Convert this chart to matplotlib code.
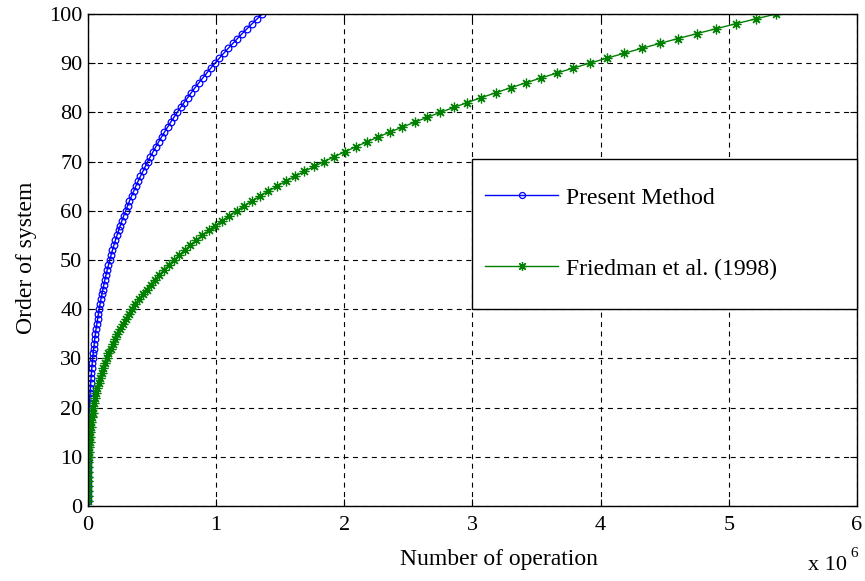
"""Operation count versus system order: present method vs Friedman et al. (1998)."""

import matplotlib
matplotlib.use("Agg")
import matplotlib.pyplot as plt
from matplotlib.patches import Rectangle
import numpy as np

plt.rcParams["font.family"] = ["Liberation Serif", "DejaVu Serif"]

# order of system (n = 1 .. 100)
order = np.arange(1, 101)

# number of operations, in units of 10^6
present_ops = [
    0.000, 0.000, 0.000, 0.000, 0.000, 0.000, 0.000, 0.001, 0.001, 0.001,
    0.002, 0.002, 0.003, 0.004, 0.005, 0.006, 0.007, 0.008, 0.009, 0.011,
    0.013, 0.014, 0.017, 0.019, 0.021, 0.024, 0.027, 0.030, 0.033, 0.037,
    0.041, 0.045, 0.049, 0.053, 0.058, 0.063, 0.069, 0.075, 0.081, 0.087,
    0.094, 0.101, 0.108, 0.116, 0.124, 0.132, 0.141, 0.150, 0.160, 0.170,
    0.180, 0.191, 0.202, 0.214, 0.226, 0.239, 0.252, 0.265, 0.279, 0.294,
    0.309, 0.324, 0.340, 0.357, 0.373, 0.391, 0.409, 0.428, 0.447, 0.466,
    0.487, 0.508, 0.529, 0.551, 0.574, 0.597, 0.621, 0.645, 0.671, 0.696,
    0.723, 0.750, 0.778, 0.806, 0.835, 0.865, 0.896, 0.927, 0.959, 0.991,
    1.025, 1.059, 1.094, 1.130, 1.166, 1.203, 1.241, 1.280, 1.320, 1.360,
]
friedman_ops = [
    0.000, 0.000, 0.000, 0.000, 0.001, 0.001, 0.002, 0.003, 0.004, 0.005,
    0.007, 0.009, 0.012, 0.015, 0.018, 0.022, 0.026, 0.031, 0.037, 0.043,
    0.050, 0.057, 0.065, 0.074, 0.084, 0.094, 0.106, 0.118, 0.131, 0.145,
    0.160, 0.176, 0.193, 0.211, 0.230, 0.251, 0.272, 0.295, 0.319, 0.344,
    0.370, 0.398, 0.427, 0.457, 0.489, 0.523, 0.558, 0.594, 0.632, 0.671,
    0.712, 0.755, 0.799, 0.846, 0.893, 0.943, 0.994, 1.048, 1.103, 1.160,
    1.219, 1.280, 1.343, 1.408, 1.475, 1.544, 1.615, 1.688, 1.764, 1.842,
    1.922, 2.004, 2.089, 2.176, 2.265, 2.357, 2.452, 2.548, 2.648, 2.749,
    2.854, 2.961, 3.070, 3.183, 3.298, 3.416, 3.536, 3.660, 3.786, 3.915,
    4.047, 4.182, 4.319, 4.460, 4.604, 4.751, 4.901, 5.054, 5.211, 5.370,
]

labels = ["Present Method", "Friedman et al. (1998)"]

fig = plt.figure(figsize=(8.65, 5.81), dpi=100)
ax = fig.add_axes([0.1017, 0.129, 0.889, 0.847])

ax.plot(present_ops, order, color="#0000ff", lw=1.0, marker="o", ms=4.8,
        mfc="none", mew=0.9, label=labels[0])
ax.plot(friedman_ops, order, color="#008000", lw=1.0, marker=(8, 2, 0), ms=7,
        mew=0.9, label=labels[1])

ax.set_xlim(0, 6)
ax.set_ylim(0, 100)
ax.set_xticks(range(0, 7))
ax.set_yticks(range(0, 101, 10))
ax.grid(True, color="black", linestyle=(0, (4.5, 4)), linewidth=0.8)
ax.tick_params(direction="in", top=True, right=True, length=5, width=0.8,
               labelsize=16, pad=4)
ax.tick_params(axis="x", pad=7)
for s in ax.spines.values():
    s.set_linewidth(1.0)

ax.set_xlabel("Number of operation", fontsize=17)
ax.xaxis.set_label_coords(0.534, -0.087)
ax.set_ylabel("Order of system", fontsize=17)
ax.yaxis.set_label_coords(-0.066, 0.504)

fig.text(0.934, 0.019, "x 10", fontsize=16, ha="left", va="baseline")
fig.text(0.983, 0.041, "6", fontsize=11, ha="left", va="baseline")

# legend box (MATLAB style: square frame stuck to the right axis edge)
ax.add_patch(Rectangle((0.4993, 0.4004), 0.5007, 0.3049, transform=ax.transAxes,
                       facecolor="white", edgecolor="black", lw=1.0, zorder=4,
                       clip_on=False))
leg = ax.legend(loc="center left", bbox_to_anchor=(0.4993, 0.554), borderaxespad=0,
                frameon=False, fontsize=17, handlelength=3.1, handletextpad=0.34,
                labelspacing=2.09, borderpad=0.55, markerscale=0.9)
leg.set_zorder(5)

fig.savefig("out.png", dpi=100)
